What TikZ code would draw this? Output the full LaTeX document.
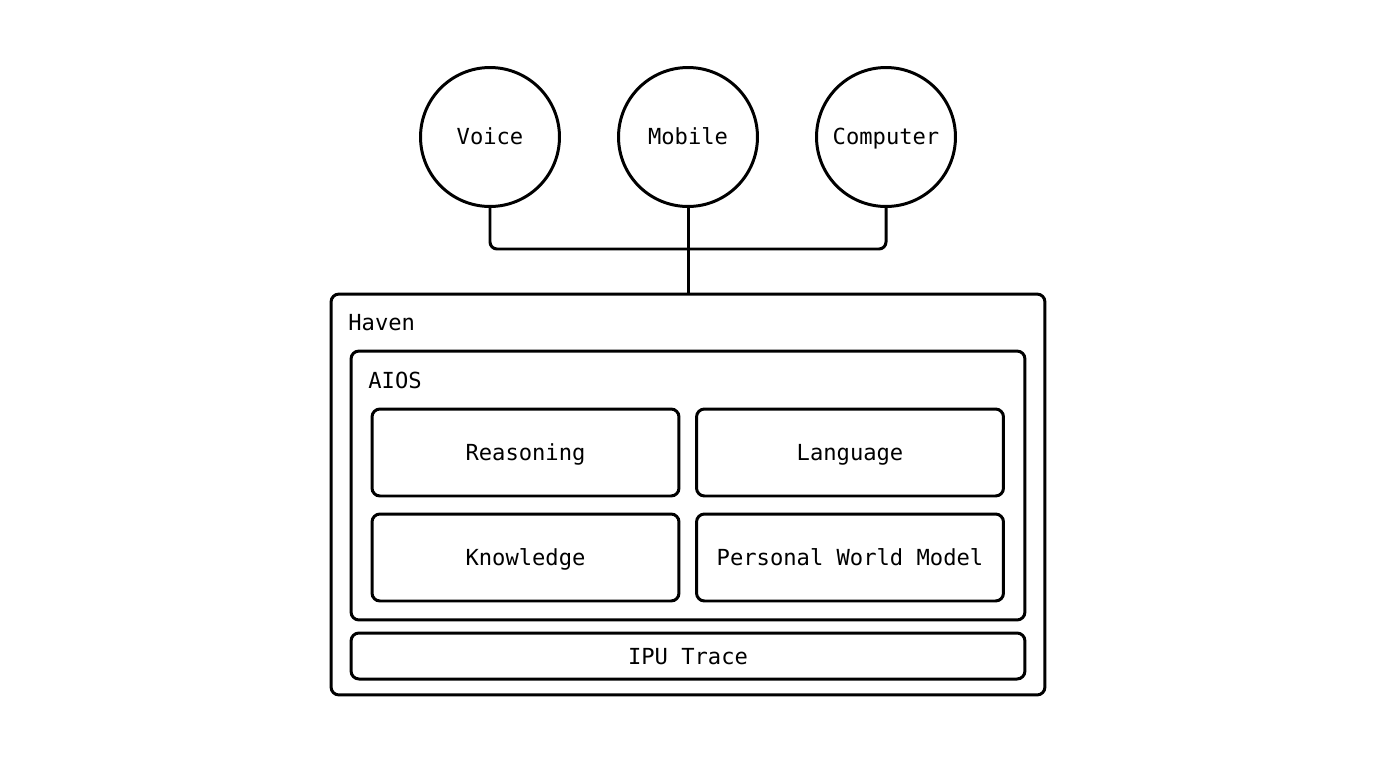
\documentclass[tikz,border=0pt]{standalone}
\usepackage{fontspec}
\setmonofont{DejaVu Sans Mono}
\begin{document}
\begin{tikzpicture}[x=0.02cm,y=-0.02cm,
  every node/.style={font=\ttfamily\fontsize{12.6}{15}\selectfont,text height=1.05em,text depth=0.14em},
  ln/.style={line width=1.7pt},
  circ/.style={ln,draw,circle,minimum size=2.78cm,inner sep=0pt},
  box/.style={ln,draw,rounded corners=4.5pt,inner sep=0pt},
  lbl/.style={anchor=west,inner sep=0pt}]
\useasboundingbox[fill=white] (0,0) rectangle (1376,768);
% devices
\node[circ] (voice) at (490,137) {Voice};
\node[circ] (mobile) at (688,137) {Mobile};
\node[circ] (computer) at (886,137) {Computer};
% containers
\node[box,minimum width=14.28cm,minimum height=8.02cm] (haven) at (688,494.5) {};
\node[lbl] (havenlbl) at (348,322) {Haven};
\node[box,minimum width=13.48cm,minimum height=5.38cm] (aios) at (688,485.5) {};
\node[lbl] (aioslbl) at (368,380) {AIOS};
\node[box,minimum width=6.14cm,minimum height=1.74cm] (reasoning) at (525.5,452.5) {Reasoning};
\node[box,minimum width=6.14cm,minimum height=1.74cm] (language) at (850,452.5) {Language};
\node[box,minimum width=6.14cm,minimum height=1.74cm] (knowledge) at (525.5,557.5) {Knowledge};
\node[box,minimum width=6.14cm,minimum height=1.74cm] (pwm) at (850,557.5) {Personal World Model};
\node[box,minimum width=13.48cm,minimum height=0.92cm] (ipu) at (688,656) {IPU Trace};
% connectors
\coordinate (bus) at (688,249);
\draw[ln,rounded corners=4pt] (voice.south) |- (bus) -| (computer.south);
\draw[ln] (mobile.south) -- (haven.north);
\end{tikzpicture}
\end{document}
